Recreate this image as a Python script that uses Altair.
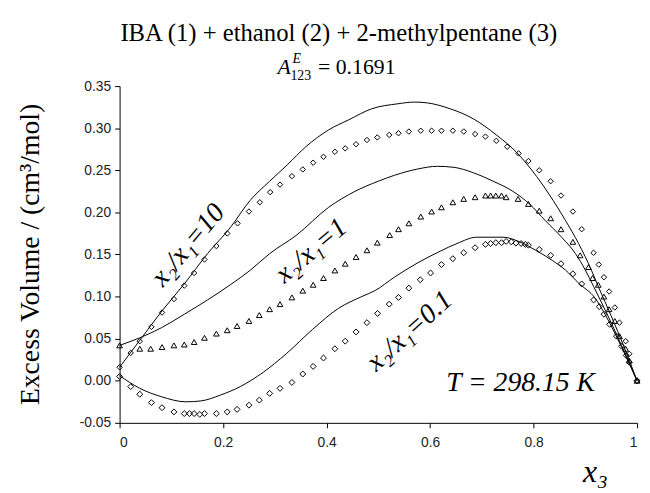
import altair as alt
import pandas as pd

# ---- experimental points (x3, V^E) ----
x10 = [0, 0.0215, 0.039, 0.0615, 0.082, 0.105, 0.125, 0.144, 0.164, 0.187, 0.208, 0.228, 0.250, 0.271,
       0.291, 0.310, 0.333, 0.354, 0.374, 0.394, 0.416, 0.436, 0.457, 0.478, 0.498, 0.521, 0.539, 0.559,
       0.582, 0.603, 0.622, 0.644, 0.665, 0.687, 0.707, 0.728, 0.749, 0.771, 0.790, 0.811, 0.833, 0.853,
       0.876, 0.893, 0.916, 0.926, 0.936, 0.946, 0.957, 0.966, 0.978, 0.985, 1.0]
y10 = [0.016, 0.033, 0.047, 0.064, 0.081, 0.097, 0.113, 0.128, 0.144, 0.160, 0.175, 0.187, 0.201, 0.212,
       0.224, 0.233, 0.243, 0.251, 0.259, 0.266, 0.272, 0.276, 0.281, 0.286, 0.289, 0.292, 0.294, 0.296,
       0.297, 0.297, 0.297, 0.297, 0.296, 0.293, 0.290, 0.285, 0.278, 0.270, 0.261, 0.250, 0.237, 0.220,
       0.201, 0.180, 0.152, 0.138, 0.123, 0.106, 0.087, 0.069, 0.047, 0.032, 0.0]

x1 = [0, 0.039, 0.06, 0.082, 0.105, 0.125, 0.144, 0.164, 0.187, 0.208, 0.227, 0.250, 0.270, 0.290, 0.310,
      0.333, 0.354, 0.374, 0.394, 0.416, 0.436, 0.457, 0.478, 0.498, 0.522, 0.539, 0.559, 0.582, 0.603,
      0.622, 0.644, 0.665, 0.687, 0.707, 0.717, 0.727, 0.738, 0.747, 0.770, 0.790, 0.811, 0.833, 0.853,
      0.876, 0.890, 0.906, 0.914, 0.925, 0.936, 0.946, 0.957, 0.966, 0.978, 0.985, 1.0]
y1 = [0.042, 0.038, 0.038, 0.040, 0.042, 0.043, 0.046, 0.051, 0.056, 0.060, 0.065, 0.071, 0.078, 0.085,
      0.091, 0.099, 0.107, 0.114, 0.122, 0.131, 0.139, 0.147, 0.155, 0.164, 0.173, 0.180, 0.187, 0.195,
      0.201, 0.206, 0.212, 0.216, 0.218, 0.220, 0.220, 0.220, 0.220, 0.218, 0.216, 0.210, 0.202, 0.193,
      0.180, 0.165, 0.149, 0.135, 0.122, 0.114, 0.100, 0.085, 0.071, 0.053, 0.038, 0.024, 0.0]

x01 = [0, 0.0215, 0.039, 0.0615, 0.082, 0.105, 0.125, 0.135, 0.144, 0.155, 0.164, 0.187, 0.208, 0.227,
       0.250, 0.270, 0.290, 0.310, 0.333, 0.354, 0.374, 0.394, 0.416, 0.436, 0.457, 0.478, 0.4985, 0.521,
       0.539, 0.559, 0.581, 0.601, 0.622, 0.644, 0.665, 0.687, 0.707, 0.717, 0.727, 0.738, 0.747, 0.757,
       0.766, 0.776, 0.784, 0.790, 0.811, 0.833, 0.853, 0.876, 0.893, 0.916, 0.927, 0.936, 0.947, 0.960,
       0.970, 0.979, 0.985, 1.0]
y01 = [0.005, -0.007, -0.016, -0.026, -0.032, -0.037, -0.039, -0.039, -0.039, -0.040, -0.039, -0.039,
       -0.037, -0.034, -0.029, -0.023, -0.015, -0.009, -0.002, 0.008, 0.017, 0.027, 0.038, 0.047, 0.058,
       0.069, 0.080, 0.091, 0.099, 0.110, 0.120, 0.128, 0.138, 0.145, 0.152, 0.158, 0.162, 0.163, 0.164,
       0.164, 0.1655, 0.165, 0.1635, 0.163, 0.162, 0.161, 0.156, 0.149, 0.139, 0.127, 0.115, 0.096, 0.088,
       0.079, 0.067, 0.053, 0.041, 0.030, 0.022, 0.0]

# ---- calculated curves ----
cx10 = [0, 0.039, 0.082, 0.125, 0.17, 0.214, 0.252, 0.29, 0.325, 0.36, 0.404, 0.443, 0.487, 0.538, 0.570,
        0.595, 0.639, 0.684, 0.728, 0.766, 0.798, 0.830, 0.862, 0.887, 0.912, 0.925, 0.95, 0.975, 1.0]
cy10 = [0.016, 0.048, 0.083, 0.115, 0.151, 0.182, 0.214, 0.237, 0.257, 0.278, 0.298, 0.310, 0.323, 0.329,
        0.331, 0.330, 0.323, 0.311, 0.292, 0.272, 0.249, 0.2215, 0.190, 0.163, 0.131, 0.112, 0.077, 0.040, 0.0]

cx1 = [0, 0.039, 0.081, 0.125, 0.17, 0.214, 0.252, 0.29, 0.341, 0.404, 0.455, 0.50, 0.531, 0.576, 0.614,
       0.646, 0.684, 0.722, 0.76, 0.792, 0.823, 0.855, 0.881, 0.900, 0.916, 0.94, 0.97, 1.0]
cy1 = [0.042, 0.051, 0.063, 0.079, 0.096, 0.114, 0.131, 0.151, 0.1725, 0.206, 0.225, 0.237, 0.244, 0.2515,
       0.2547, 0.2535, 0.247, 0.237, 0.225, 0.210, 0.190, 0.170, 0.151, 0.1315, 0.112, 0.082, 0.042, 0.0]

cx01 = [0, 0.039, 0.081, 0.128, 0.157, 0.195, 0.233, 0.2775, 0.322, 0.373, 0.423, 0.468, 0.4934, 0.531,
        0.576, 0.62, 0.652, 0.69, 0.741, 0.773, 0.804, 0.836, 0.8615, 0.887, 0.919, 0.938, 0.97, 1.0]
cy01 = [0.006, -0.009, -0.019, -0.025, -0.024, -0.017, -0.007, 0.010, 0.032, 0.061, 0.086, 0.100, 0.107,
        0.123, 0.140, 0.154, 0.163, 0.1705, 0.1705, 0.165, 0.155, 0.143, 0.1315, 0.116, 0.098, 0.079, 0.040, 0.0]

series_names = ["10", "1", "0.1"]
x_ticks = [0, 0.2, 0.4, 0.6, 0.8, 1]
y_ticks = [-0.05, 0, 0.05, 0.10, 0.15, 0.20, 0.25, 0.30, 0.35]

ann_text = ["x\u2082/x\u2081=10", "x\u2082/x\u2081=1", "x\u2082/x\u2081=0.1"]
ann_x = [0.133, 0.371, 0.561]
ann_y = [0.161, 0.154, 0.0587]
ann_angle = [310, 320, 318]

# ---- tables ----
exp_rows, calc_rows = [], []
for s, xs, ys in zip(series_names, [x10, x1, x01], [y10, y1, y01]):
    exp_rows += [{"series": s, "x": a, "y": b} for a, b in zip(xs, ys)]
for s, xs, ys in zip(series_names, [cx10, cx1, cx01], [cy10, cy1, cy01]):
    calc_rows += [{"series": s, "x": a, "y": b} for a, b in zip(xs, ys)]
exp = pd.DataFrame(exp_rows)
calc = pd.DataFrame(calc_rows)
ann = pd.DataFrame({"text": ann_text, "x": ann_x, "y": ann_y, "angle": ann_angle})
tlab = pd.DataFrame({"text": ["T = 298.15 K"], "x": [0.775], "y": [-0.012]})

xscale = alt.Scale(domain=[0, 1], nice=False, zero=False)
yscale = alt.Scale(domain=[-0.05, 0.35], nice=False, zero=False)

xaxis = alt.Axis(values=x_ticks, labelExpr="toString(datum.value)", title=None, grid=False,
                 domainColor="black", tickColor="black", tickSize=5, labelFont="Liberation Sans",
                 labelFontSize=14, labelColor="#222", labelPadding=8)
yaxis = alt.Axis(values=y_ticks,
                 labelExpr="datum.value < 0 ? '-' + format(-datum.value, '.2f') : format(datum.value, '.2f')",
                 title="Excess Volume / (cm\u00b3/mol)", grid=False, domainColor="black", tickColor="black",
                 tickSize=5, labelFont="Liberation Sans", labelFontSize=14, labelColor="#222", labelPadding=4,
                 titleFont="Liberation Serif", titleFontSize=28, titleFontWeight="normal", titleColor="black",
                 titleAngle=270, titleX=-90, titleY=170, titleAlign="center", titleBaseline="middle")

X = alt.X("x:Q", scale=xscale, axis=xaxis)
Y = alt.Y("y:Q", scale=yscale, axis=yaxis)

lines = alt.Chart(calc).mark_line(color="black", strokeWidth=1, interpolate="monotone").encode(
    x=X, y=Y, detail="series:N")
points = alt.Chart(exp).mark_point(filled=False, color="black", strokeWidth=1, opacity=1).encode(
    x=X, y=Y,
    shape=alt.Shape("series:N", scale=alt.Scale(domain=series_names,
                                               range=["diamond", "triangle-up", "diamond"]), legend=None),
    size=alt.Size("series:N", scale=alt.Scale(domain=series_names, range=[30, 36, 30]), legend=None))

labels = alt.Chart(ann).mark_text(font="Liberation Serif", fontStyle="italic", fontSize=28,
                                  align="center", baseline="middle", color="black").encode(
    x=alt.X("x:Q", scale=xscale), y=alt.Y("y:Q", scale=yscale), text="text:N",
    angle=alt.Angle("angle:Q", scale=None))

tlabel = alt.Chart(tlab).mark_text(font="Liberation Serif", fontStyle="italic", fontSize=28,
                                   align="center", baseline="alphabetic", color="black").encode(
    x=alt.X("x:Q", scale=xscale), y=alt.Y("y:Q", scale=yscale), text="text:N")

one = pd.DataFrame({"k": [0]})


def fixed_text(txt, px, py, size, style="normal", align="left", font="Liberation Serif"):
    return alt.Chart(one).mark_text(text=txt, font=font, fontSize=size, fontStyle=style, align=align,
                                    baseline="alphabetic", color="black").encode(
        x=alt.value(px), y=alt.value(py))


title = fixed_text("IBA (1) + ethanol (2) + 2-methylpentane (3)", 222, -46, 25, align="center")
sub_a = fixed_text("A", 160, -12, 22, style="italic")
sub_e = fixed_text("E", 175, -23, 14, style="italic")
sub_n = fixed_text("123", 173, -6, 14)
sub_v = fixed_text("= 0.1691", 201, -12, 22)
xtitle = fixed_text("x\u2083", 482, 401, 32, style="italic", align="center")

chart = alt.layer(lines, points, labels, tlabel, title, sub_a, sub_e, sub_n, sub_v, xtitle).properties(
    width=524, height=341,
    autosize=alt.AutoSizeParams(type="none"),
    padding={"left": 113, "top": 76, "right": 5, "bottom": 70},
    background="white",
).configure_view(stroke=None)

chart.save("out.html", embed_options={"renderer": "svg", "actions": False})
